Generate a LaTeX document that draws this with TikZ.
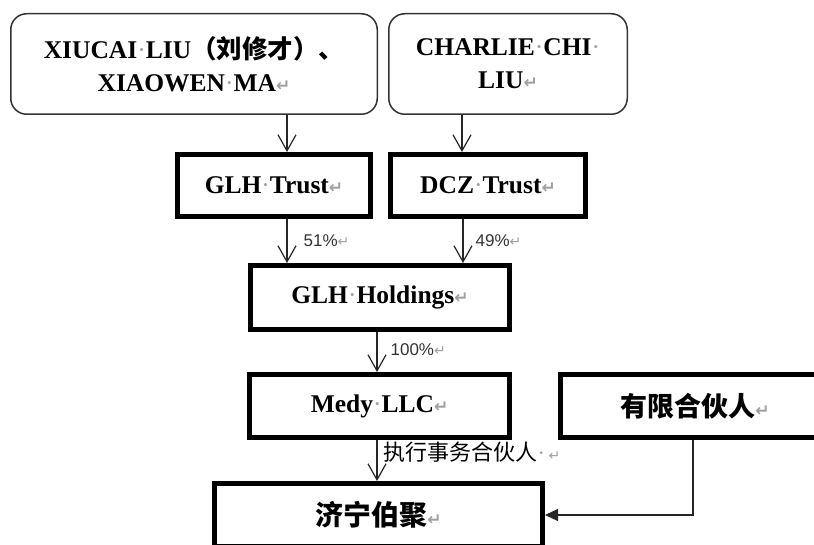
\documentclass[tikz,border=0pt]{standalone}
\usepackage{fontspec}
\setmainfont{Liberation Serif}
\newfontfamily\cjkf{Noto Sans CJK SC}
\newfontfamily\pctf{Liberation Sans}
\newfontfamily\symf{DejaVu Sans}
\usetikzlibrary{arrows.meta}
\definecolor{markgray}{RGB}{160,160,160}
\newcommand\retm{{\symf\fontsize{17}{17}\selectfont\color{markgray}↵}}
\newcommand\rets{{\symf\fontsize{14}{14}\selectfont\color{markgray}↵}}
\newcommand\spd{{\rmfamily\mdseries\color{markgray}·}}
\begin{document}
\begin{tikzpicture}[x=1pt,y=-1pt,
  lat/.style={font=\fontsize{25.5}{33}\selectfont\bfseries},
  rbox/.style={draw=black!80,line width=1.5pt,rounded corners=16pt,align=center,inner sep=0pt},
  tbox/.style={draw=black,line width=5pt,inner sep=0pt},
  arr/.style={draw=black!85,line width=1.2pt,-{Straight Barb[length=16pt,width=18pt]}},
  arrf/.style={draw=black!85,line width=1.2pt,-{Triangle[length=13pt,width=12pt]}},
  pct/.style={font=\pctf\fontsize{17}{17}\selectfont,text=black!80,inner sep=0pt,anchor=west}
]
\clip (0,0) rectangle (814,545);
\fill[white] (0,0) rectangle (814,545);

\node[rbox,lat,minimum width=366.5pt,minimum height=100.5pt] (own1) at (194,64)
  {XIUCAI\spd LIU{\cjkf\bfseries （刘修才）、}\\XIAOWEN\spd MA\retm};
\node[rbox,lat,minimum width=238.5pt,minimum height=100.5pt] (own2) at (508,64)
  {CHARLIE\spd CHI\spd\\LIU\retm};

\node[tbox,lat,minimum width=193pt,minimum height=62pt] (glht) at (274,185.5) {GLH\spd Trust\retm};
\node[tbox,lat,minimum width=195pt,minimum height=62pt] (dczt) at (488,185.5) {DCZ\spd Trust\retm};
\node[tbox,lat,minimum width=259pt,minimum height=64pt] (glhh) at (380,297.5) {GLH\spd Holdings\retm};
\node[tbox,lat,minimum width=260pt,minimum height=63pt] (medy) at (379.5,406) {Medy\spd LLC\retm};
\node[tbox,font=\cjkf\bfseries\fontsize{27}{27}\selectfont,minimum width=269pt,minimum height=63pt] (lp) at (695,406) {有限合伙人\retm};
\node[tbox,font=\cjkf\bfseries\fontsize{28}{28}\selectfont,minimum width=328pt,minimum height=63pt] (jn) at (378.5,515) {济宁伯聚\retm};

\coordinate (xa) at (287,0);
\coordinate (xb) at (462,0);
\coordinate (xd) at (463,0);
\coordinate (xe) at (377,0);
\coordinate (xg) at (693,0);

\draw[arr] (own1.south -| xa) -- (glht.north -| xa);
\draw[arr] (own2.south -| xb) -- (dczt.north -| xb);
\draw[arr] (glht.south -| xa) -- (glhh.north -| xa) node[pct,midway,xshift=16pt] {51\%\rets};
\draw[arr] (dczt.south -| xd) -- (glhh.north -| xd) node[pct,midway,xshift=12pt] {49\%\rets};
\draw[arr] (glhh.south -| xe) -- (medy.north -| xe) node[pct,midway,xshift=13pt,yshift=2pt] {100\%\rets};
\draw[arr] (medy.south -| xe) -- (jn.north -| xe) node[midway,anchor=west,inner sep=0pt,xshift=6pt,yshift=8pt,font=\cjkf\fontsize{22}{22}\selectfont] {执行事务合伙人\spd\,\rets};
\draw[arrf] (lp.south -| xg) |- (jn.east);
\end{tikzpicture}
\end{document}
